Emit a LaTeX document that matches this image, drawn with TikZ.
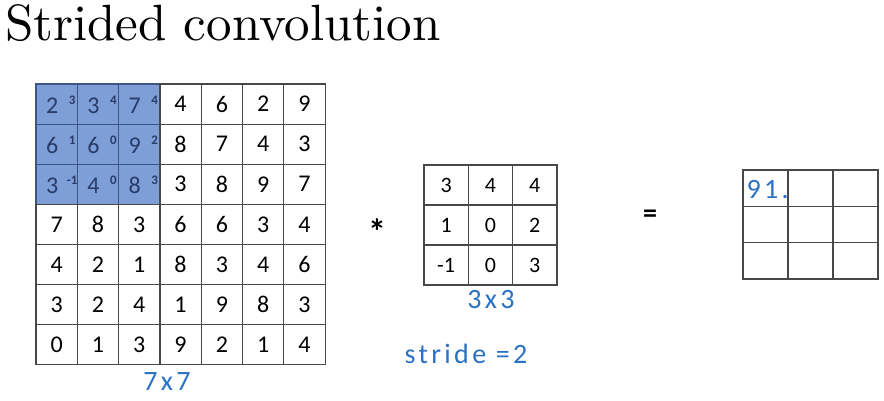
\documentclass[tikz,border=0pt]{standalone}
\usepackage{fontspec}
\newfontfamily\cellfont{Carlito}
\newfontfamily\handfont[LetterSpace=12]{Carlito}
\newfontfamily\titlefont{lmroman10-regular.otf}
\usetikzlibrary{positioning}

\definecolor{shade}{RGB}{126,158,216}
\definecolor{shadeink}{RGB}{40,60,105}
\definecolor{gridline}{RGB}{72,72,72}
\definecolor{pen}{RGB}{44,114,196}

\tikzset{
  cell/.style={draw=gridline, line width=1.2pt, inner sep=0pt,
    minimum width=41.3pt, minimum height=40.1pt,
    font=\cellfont\fontsize{24}{24}\selectfont},
  hot/.style={cell, fill=shade, draw=shadeink!75!shade},
  hotnum/.style={inner sep=0pt, text=shadeink, font=\cellfont\fontsize{24}{24}\selectfont},
  kval/.style={inner sep=0pt, text=shadeink, font=\cellfont\bfseries\fontsize{13}{13}\selectfont},
  kcell/.style={cell, minimum width=44.3pt, minimum height=40pt,
    font=\cellfont\fontsize{22}{22}\selectfont},
  ocell/.style={cell, minimum width=45pt, minimum height=36.3pt},
  hand/.style={inner sep=0pt, text=pen, font=\handfont\fontsize{28}{28}\selectfont},
  op/.style={inner sep=0pt, font=\cellfont\bfseries\fontsize{28}{28}\selectfont}
}

\begin{document}
\begin{tikzpicture}[x=1pt, y=-1pt]
\useasboundingbox[fill=white] (0,0) rectangle (884,400);

% Title
\node[anchor=base west, inner sep=0pt, font=\titlefont\fontsize{51}{55}\selectfont] (title) at (5,40) {Strided convolution};

% 7x7 input, top-left 3x3 block shaded
\foreach \row [count=\r] in {{2,3,7,4,6,2,9},{6,6,9,8,7,4,3},{3,4,8,3,8,9,7},
  {7,8,3,6,6,3,4},{4,2,1,8,3,4,6},{3,2,4,1,9,8,3},{0,1,3,9,2,1,4}}{
  \foreach \v [count=\c] in \row {
    \pgfmathtruncatemacro\hot{and(\r<4,\c<4)}
    \ifnum\hot=1
      \node[hot] (in-\r-\c) at ({36+41.3*(\c-0.5)},{84+40.1*(\r-0.5)}) {};
      \node[hotnum] (v-\r-\c) at ([xshift=-4.5pt,yshift=-1.5pt]in-\r-\c.center) {\v};
    \else
      \node[cell] (in-\r-\c) at ({36+41.3*(\c-0.5)},{84+40.1*(\r-0.5)}) {\v};
    \fi
  }
}

% kernel values written beside the covered digits
\foreach \r/\c/\k in {1/1/3, 1/2/4, 1/3/4, 2/1/1, 2/2/0, 2/3/2, 3/1/-1, 3/2/0, 3/3/3}{
  \node[kval] (k-\r-\c) at ([xshift=15.5pt,yshift=4pt]in-\r-\c.center) {\k};
}

% 3x3 filter
\foreach \row [count=\r] in {{3,4,4},{1,0,2},{-1,0,3}}{
  \foreach \v [count=\c] in \row {
    \node[kcell] (f-\r-\c) at ({424+44.3*(\c-0.5)},{165+40*(\r-0.5)}) {\v};
  }
}

% 3x3 output
\foreach \r in {1,2,3}{
  \foreach \c in {1,2,3}{
    \node[ocell] (out-\r-\c) at ({743+45*(\c-0.5)},{170+36.3*(\r-0.5)}) {};
  }
}

% Operators
\node[op, font=\cellfont\bfseries\fontsize{36}{36}\selectfont] (star) at (377,232) {*};
\node[op] (eq) at (650,216) {=};

% Handwritten notes
\node[hand] (insize) at (167,382) {7x7};
\node[hand] (fsize) at (491,300) {3x3};
\node[hand] (stride) at (466,354) {stride =2};
\node[hand, anchor=west] (first) at ([xshift=4pt,yshift=-1pt]out-1-1.west) {91.};
\end{tikzpicture}
\end{document}
